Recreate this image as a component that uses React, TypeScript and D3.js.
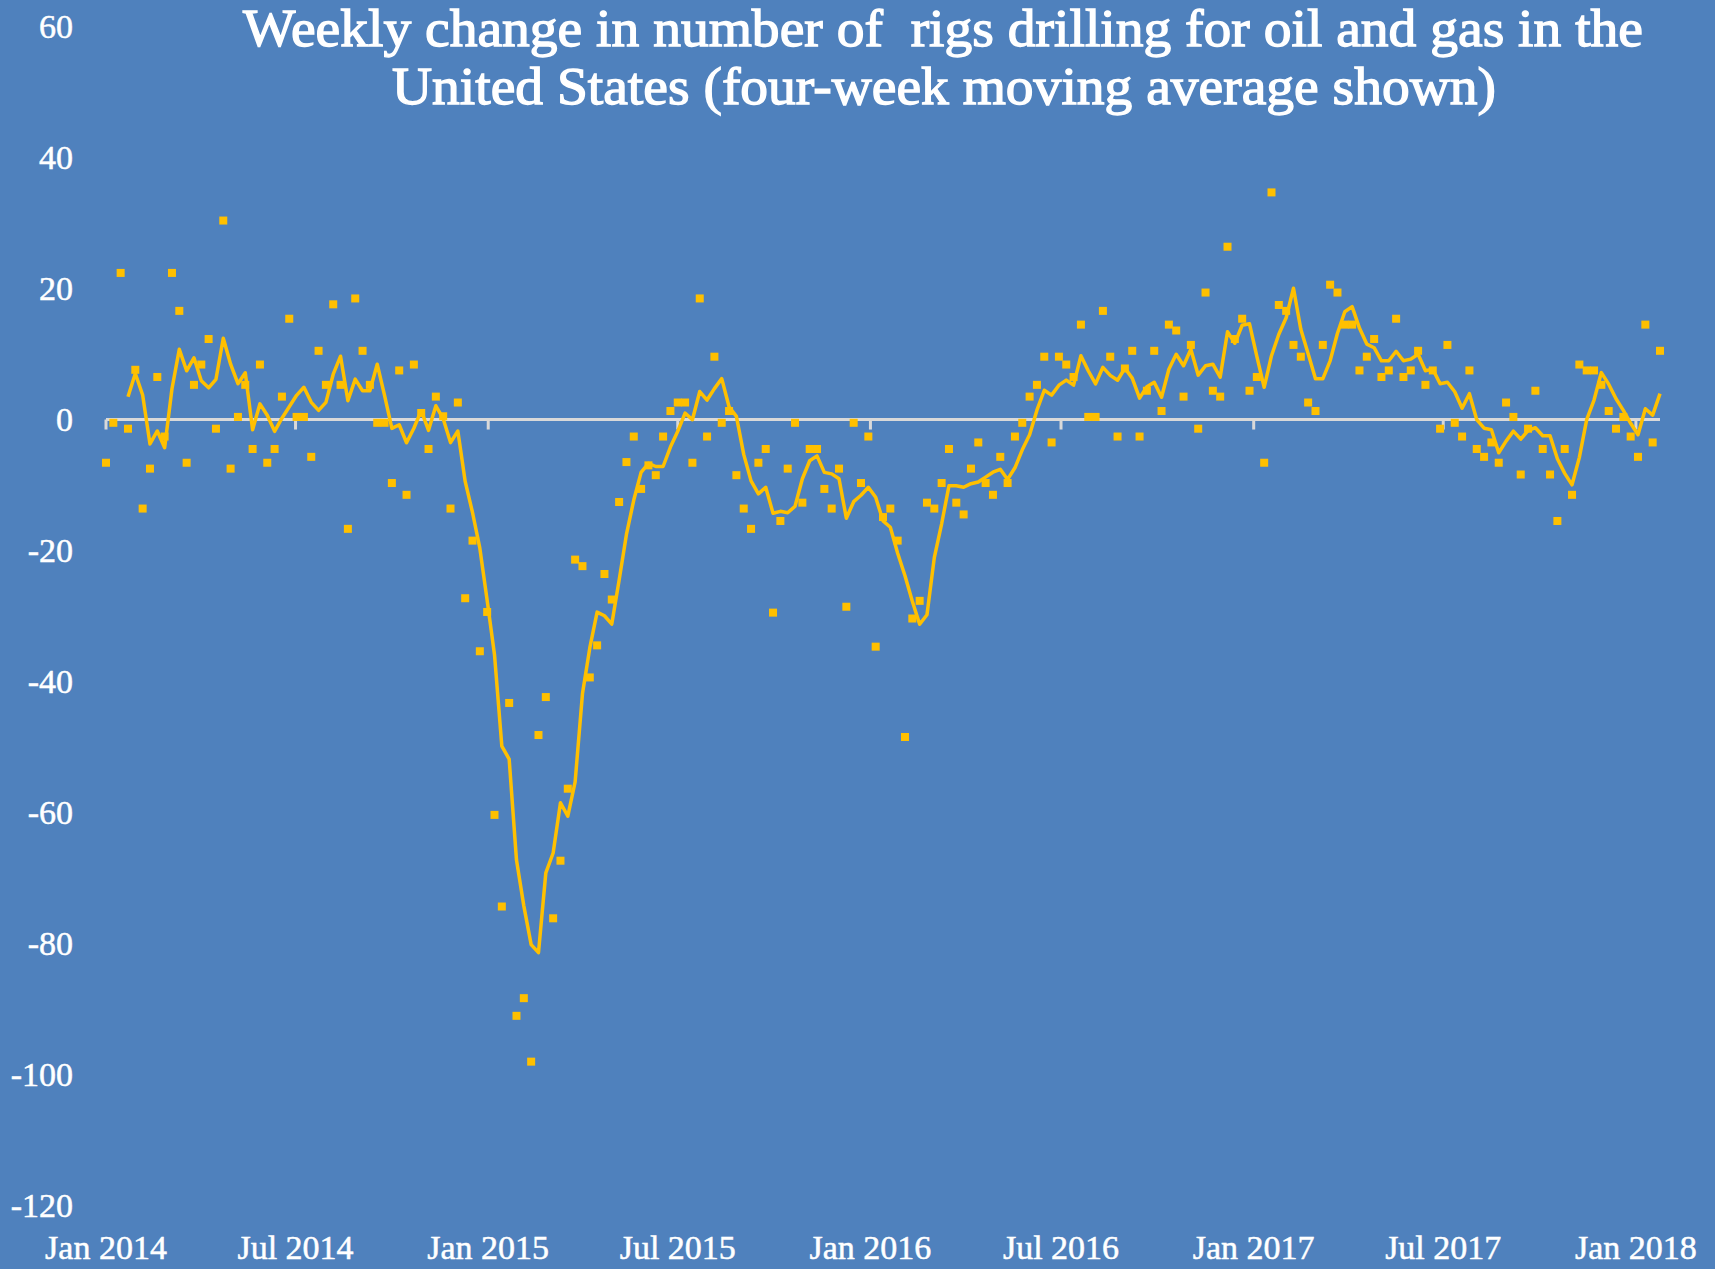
import React, { useEffect } from "react";
import * as d3 from "d3";

// Weekly change in US rig count (Baker Hughes), week ending Fridays, starting 3 Jan 2014
const weeklyChange: number[] = [
  -6.6, -0.5, 22.4, -1.4, 7.6, -13.6, -7.5, 6.5, -2.6, 22.4,
  16.6, -6.6, 5.3, 8.4, 12.3, -1.4, 30.4, -7.5, 0.4, 5.3,
  -4.5, 8.4, -6.6, -4.5, 3.5, 15.4, 0.4, 0.4, -5.7, 10.5,
  5.3, 17.6, 5.3, -16.7, 18.5, 10.5, 5.3, -0.5, -0.5, -9.7,
  7.5, -11.5, 8.4, 1.0, -4.5, 3.5, 0.5, -13.6, 2.6, -27.3,
  -18.5, -35.4, -29.4, -60.4, -74.4, -43.3, -91.1, -88.4, -98.1, -48.2,
  -42.4, -76.2, -67.4, -56.4, -21.4, -22.4, -39.4, -34.5, -23.6, -27.5,
  -12.6, -6.5, -2.6, -10.6, -7.0, -8.5, -2.6, 1.3, 2.6, 2.6,
  -6.6, 18.5, -2.6, 9.6, -0.5, 1.3, -8.5, -13.6, -16.7, -6.6,
  -4.5, -29.5, -15.5, -7.5, -0.5, -12.7, -4.5, -4.5, -10.6, -13.6,
  -7.5, -28.6, -0.5, -9.7, -2.6, -34.7, -14.9, -13.6, -18.5, -48.5,
  -30.4, -27.7, -12.7, -13.6, -9.7, -4.5, -12.7, -14.5, -7.5, -3.5,
  -9.7, -11.5, -5.7, -9.7, -2.6, -0.5, 3.5, 5.3, 9.6, -3.5,
  9.6, 8.4, 6.5, 14.5, 0.4, 0.4, 16.6, 9.6, -2.6, 7.8,
  10.5, -2.6, 4.4, 10.5, 1.3, 14.5, 13.6, 3.5, 11.4, -1.4,
  19.4, 4.4, 3.5, 26.4, 12.3, 15.4, 4.4, 6.5, -6.6, 34.7,
  17.5, 16.6, 11.4, 9.6, 2.6, 1.3, 11.4, 20.6, 19.4, 14.5,
  14.5, 7.5, 9.6, 12.3, 6.5, 7.5, 15.4, 6.5, 7.5, 10.5,
  5.3, 7.5, -1.4, 11.4, -0.5, -2.6, 7.5, -4.5, -5.7, -3.5,
  -6.6, 2.6, 0.4, -8.4, -1.4, 4.4, -4.5, -8.4, -15.5, -4.5,
  -11.5, 8.4, 7.5, 7.5, 5.3, 1.3, -1.4, 0.4, -2.6, -5.7,
  14.5, -3.5, 10.5,
];

const firstWeek = new Date(2014, 0, 3);
const weekDates: Date[] = weeklyChange.map((_, i) => d3.timeDay.offset(firstWeek, 7 * i));

const xTickDates: Date[] = [
  new Date(2014, 0, 3), new Date(2014, 6, 3), new Date(2015, 0, 3), new Date(2015, 6, 3),
  new Date(2016, 0, 3), new Date(2016, 6, 3), new Date(2017, 0, 3), new Date(2017, 6, 3),
  new Date(2018, 0, 3),
];
const xTickLabels: string[] = [
  "Jan 2014", "Jul 2014", "Jan 2015", "Jul 2015", "Jan 2016",
  "Jul 2016", "Jan 2017", "Jul 2017", "Jan 2018",
];
const yTicks: number[] = [60, 40, 20, 0, -20, -40, -60, -80, -100, -120];

const titleLines: string[] = [
  "Weekly change in number of  rigs drilling for oil and gas in the",
  "United States (four-week moving average shown)",
];

const W = 1715;
const H = 1269;
const BG = "#4F81BD";
const GOLD = "#FFC000";
const AXIS = "#D9D9D9";
const FONT = "'Liberation Serif', 'Times New Roman', serif";

export default function App() {
  useEffect(() => {
    document.body.style.margin = "0";
  }, []);

  const x = d3.scaleTime().domain([weekDates[0], weekDates[weekDates.length - 1]]).range([106, 1660]);
  const y = d3.scaleLinear().domain([-120, 60]).range([1205, 26.8]);

  const ma: { d: Date; v: number }[] = [];
  for (let i = 3; i < weeklyChange.length; i++) {
    ma.push({ d: weekDates[i], v: d3.mean(weeklyChange.slice(i - 3, i + 1)) as number });
  }
  const line = d3
    .line<{ d: Date; v: number }>()
    .x((p) => x(p.d))
    .y((p) => y(p.v));

  const y0 = y(0);
  const m = 8;

  return (
    <svg width={W} height={H} style={{ display: "block" }} fontFamily={FONT}>
      <rect x={0} y={0} width={W} height={H} fill={BG} />
      {/* title */}
      <g fill="#fff" stroke="#fff" strokeWidth={1.3} fontSize={52}>
        <text x={943} y={46} textAnchor="middle"
          textLength={1400} lengthAdjust="spacingAndGlyphs" style={{ whiteSpace: "pre" }}>
          {titleLines[0]}
        </text>
        <text x={944} y={104} textAnchor="middle"
          textLength={1104} lengthAdjust="spacingAndGlyphs">
          {titleLines[1]}
        </text>
      </g>
      {/* y labels */}
      <g fill="#fff" stroke="#fff" strokeWidth={0.5} fontSize={34}>
        {yTicks.map((t) => (
          <text key={t} x={73} y={y(t) + 11.5} textAnchor="end">
            {t}
          </text>
        ))}
      </g>
      {/* x axis line at zero */}
      <line x1={x.range()[0]} x2={x.range()[1]} y1={y0} y2={y0} stroke={AXIS} strokeWidth={3} />
      {xTickDates.map((d, i) => (
        <line key={i} x1={x(d)} x2={x(d)} y1={y0} y2={y0 + 10} stroke={AXIS} strokeWidth={3} />
      ))}
      <g fill="#fff" stroke="#fff" strokeWidth={0.5} fontSize={34}>
        {xTickDates.map((d, i) => (
          <text key={i} x={x(d)} y={1259} textAnchor="middle">
            {xTickLabels[i]}
          </text>
        ))}
      </g>
      {/* moving average */}
      <path d={line(ma) || ""} fill="none" stroke={GOLD} strokeWidth={3.5} strokeLinejoin="round" />
      {/* weekly markers */}
      {weeklyChange.map((v, i) => (
        <rect key={i} x={x(weekDates[i]) - m / 2} y={y(v) - m / 2} width={m} height={m} fill={GOLD} />
      ))}
    </svg>
  );
}
